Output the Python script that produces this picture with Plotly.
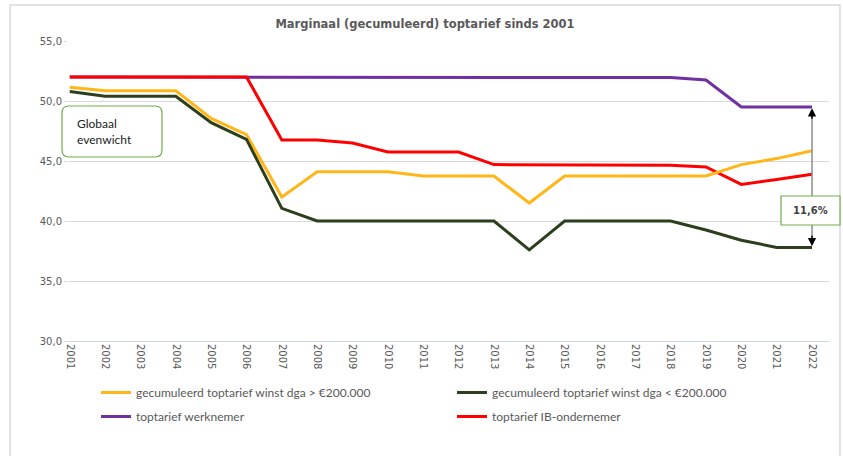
import plotly.graph_objects as go

years = [str(y) for y in range(2001, 2023)]

dga_boven = [51.15, 50.85, 50.85, 50.85, 48.55, 47.2, 42.0, 44.1, 44.1, 44.1, 43.75,
             43.75, 43.75, 41.5, 43.75, 43.75, 43.75, 43.75, 43.75, 44.7, 45.2, 45.85]
dga_onder = [50.8, 50.4, 50.4, 50.4, 48.2, 46.8, 41.05, 40.0, 40.0, 40.0, 40.0,
             40.0, 40.0, 37.6, 40.0, 40.0, 40.0, 40.0, 39.25, 38.4, 37.8, 37.8]
werknemer = [52.0, 52.0, 52.0, 52.0, 52.0, 52.0, 52.0, 52.0, 52.0, 52.0, 52.0,
             52.0, 52.0, 52.0, 52.0, 52.0, 52.0, 51.95, 51.75, 49.5, 49.5, 49.5]
ib_ondernemer = [52.0, 52.0, 52.0, 52.0, 52.0, 52.0, 46.75, 46.75, 46.5, 45.75, 45.75,
                 45.75, 44.7, 44.7, 44.7, 44.7, 44.7, 44.65, 44.5, 43.05, 43.45, 43.9]

names = ["gecumuleerd toptarief winst dga > €200.000",
         "gecumuleerd toptarief winst dga < €200.000",
         "toptarief werknemer",
         "toptarief IB-ondernemer"]

title_text = "Marginaal (gecumuleerd) toptarief sinds 2001"
box_text = "Globaal<br>evenwicht"
gap_text = "11,6%"

W, H = 843, 456
L, R, T, B = 68, 829, 41, 341
pw, ph = R - L, B - T


def px(x):
    return (x - L) / pw


def py(y):
    return (B - y) / ph


fig = go.Figure()
fig.add_trace(go.Scatter(x=years, y=werknemer, name=names[2], mode="lines",
                         line=dict(color="#7030A0", width=3), legend="legend",
                         legendgroup="c", legendrank=2))
fig.add_trace(go.Scatter(x=years, y=ib_ondernemer, name=names[3], mode="lines",
                         line=dict(color="#FF0000", width=3), legend="legend2",
                         legendgroup="d", legendrank=2))
fig.add_trace(go.Scatter(x=years, y=dga_boven, name=names[0], mode="lines",
                         line=dict(color="#FFB619", width=3), legend="legend",
                         legendgroup="a", legendrank=1))
fig.add_trace(go.Scatter(x=years, y=dga_onder, name=names[1], mode="lines",
                         line=dict(color="#2B3F1C", width=3), legend="legend2",
                         legendgroup="b", legendrank=1))

text_font = "Lato, Open Sans, sans-serif"
axis_font = "DejaVu Sans, Verdana, sans-serif"
legend_common = dict(orientation="v", xanchor="left", yanchor="top",
                     font=dict(family=text_font, size=12, color="#595959"),
                     bgcolor="rgba(0,0,0,0)", tracegroupgap=5, itemwidth=30)

fig.update_layout(
    width=W, height=H,
    margin=dict(l=L, r=W - R, t=T, b=H - B, autoexpand=False),
    paper_bgcolor="white", plot_bgcolor="white",
    separators=",.",
    title=dict(text="<b>" + title_text + "</b>", x=425 / W, xref="container",
               xanchor="center", y=1 - 24 / H, yref="container", yanchor="middle",
               font=dict(family=axis_font, size=11.5, color="#595959")),
    xaxis=dict(type="category", range=[-0.05, 21.48], tickangle=90,
               showgrid=False, showline=True, linecolor="#C9D6EA", linewidth=1,
               ticks="", tickfont=dict(family=axis_font, size=10, color="#595959"),
               zeroline=False, automargin=False),
    yaxis=dict(range=[30, 55], dtick=5, tickformat=".1f", showgrid=True,
               gridcolor="#D9D9D9", gridwidth=1, zeroline=False, ticks="outside",
               ticklen=3, tickcolor="#D9D9D9", automargin=False,
               tickfont=dict(family=axis_font, size=10, color="#595959")),
    legend=dict(x=px(96), y=py(378), **legend_common),
    legend2=dict(x=px(452), y=py(378), **legend_common),
    showlegend=True,
)

# outer chart border
fig.add_shape(type="rect", xref="paper", yref="paper",
              x0=px(10), x1=px(840), y0=py(470), y1=py(5),
              line=dict(color="#D9D9D9", width=1.5), fillcolor="rgba(0,0,0,0)",
              layer="below")

# rounded "Globaal evenwicht" box
x0, x1, y0, y1 = 62, 162, 106, 157
r = 7
path = (f"M {px(x0 + r)},{py(y0)} L {px(x1 - r)},{py(y0)} "
        f"Q {px(x1)},{py(y0)} {px(x1)},{py(y0 + r)} "
        f"L {px(x1)},{py(y1 - r)} Q {px(x1)},{py(y1)} {px(x1 - r)},{py(y1)} "
        f"L {px(x0 + r)},{py(y1)} Q {px(x0)},{py(y1)} {px(x0)},{py(y1 - r)} "
        f"L {px(x0)},{py(y0 + r)} Q {px(x0)},{py(y0)} {px(x0 + r)},{py(y0)} Z")
fig.add_shape(type="path", xref="paper", yref="paper", path=path,
              line=dict(color="#70AD47", width=1.2), fillcolor="white")
fig.add_annotation(xref="paper", yref="paper", x=px(75), y=py(131),
                   xanchor="left", yanchor="middle", align="left", showarrow=False,
                   text=box_text, font=dict(family=text_font, size=12, color="#222222"))

# vertical double arrow at 2022 (category index)
last = len(years) - 1
fig.add_shape(type="line", xref="x", yref="y", x0=last, x1=last,
              y0=dga_onder[-1] + 0.3, y1=werknemer[-1] - 0.3,
              line=dict(color="#8C8C8C", width=1.5))
fig.add_annotation(xref="x", yref="y", x=last, y=werknemer[-1] - 0.1, ax=0, ay=12,
                   showarrow=True, arrowhead=2, arrowsize=1.1, arrowwidth=1.5,
                   arrowcolor="#000000", text="")
fig.add_annotation(xref="x", yref="y", x=last, y=dga_onder[-1] + 0.1, ax=0, ay=-12,
                   showarrow=True, arrowhead=2, arrowsize=1.1, arrowwidth=1.5,
                   arrowcolor="#000000", text="")

# "11,6%" box
fig.add_shape(type="rect", xref="paper", yref="paper",
              x0=px(781), x1=px(840), y0=py(225), y1=py(196),
              line=dict(color="#70AD47", width=1.2), fillcolor="white")
fig.add_annotation(xref="paper", yref="paper", x=px(810.5), y=py(210.5),
                   xanchor="center", yanchor="middle",
                   showarrow=False, text="<b>" + gap_text + "</b>",
                   font=dict(family=axis_font, size=10, color="#404040"))

fig.write_html("out.html", config={"displayModeBar": False},
               post_script="document.body.style.margin='0';document.body.style.padding='0';")
